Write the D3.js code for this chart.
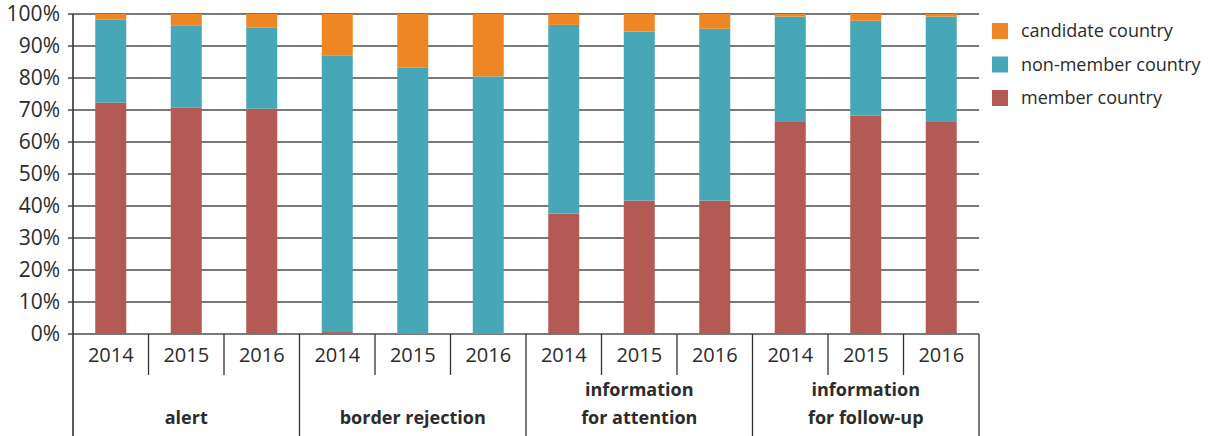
<!DOCTYPE html>
<html>
<head>
<meta charset="utf-8">
<script src="https://cdn.jsdelivr.net/npm/d3@7"></script>
<style>
  body { margin: 0; background: #fff; }
  svg text { font-family: "Open Sans", "Noto Sans", sans-serif; fill: #2b2b2b; }
</style>
</head>
<body>
<div id="chart"></div>
<script>
var groups = ["alert", "border rejection", "information\nfor attention", "information\nfor follow-up"];
var years = ["2014", "2015", "2016"];
var seriesNames = ["member country", "non-member country", "candidate country"];
var seriesColors = ["#b35a55", "#48a7b7", "#ee8623"];

// percentages, one value per group/year (12 bars)
var member    = [72.3, 70.7, 70.4,  0.6,  0.0,  0.0, 37.6, 41.7, 41.7, 66.5, 68.3, 66.5];
var nonMember = [26.0, 25.6, 25.3, 86.5, 83.2, 80.5, 59.0, 52.8, 53.7, 32.7, 29.6, 32.7];
var candidate = [ 1.7,  3.7,  4.3, 12.9, 16.8, 19.5,  3.4,  5.5,  4.6,  0.8,  2.1,  0.8];
var yTicks = [0, 10, 20, 30, 40, 50, 60, 70, 80, 90, 100];

var margin = { top: 14, left: 73, right: 235, bottom: 102 },
    width = 1214 - margin.left - margin.right,
    height = 436 - margin.top - margin.bottom;

var svg = d3.select("#chart").append("svg")
    .attr("width", 1214).attr("height", 436);
var g = svg.append("g")
    .attr("transform", "translate(" + margin.left + "," + margin.top + ")");

var keys = [];
groups.forEach(function (gr, gi) {
  years.forEach(function (yr) { keys.push(gi + "|" + yr); });
});
var rows = keys.map(function (k, i) {
  return { key: k, member: member[i], nonMember: nonMember[i], candidate: candidate[i] };
});

var x = d3.scaleBand().domain(keys).range([0, width]).paddingInner(0).paddingOuter(0);
var y = d3.scaleLinear().domain([0, 100]).range([height, 0]);

// gridlines
g.selectAll(".grid").data(yTicks).enter().append("line")
    .attr("x1", -5).attr("x2", width)
    .attr("y1", d => y(d)).attr("y2", d => y(d))
    .attr("stroke", "#4d4d4d").attr("stroke-width", 1.7);

g.selectAll(".ylab").data(yTicks).enter().append("text")
    .attr("x", -13).attr("y", d => y(d))
    .attr("dy", "0.35em").attr("text-anchor", "end")
    .style("font-size", "21px")
    .text(d => d + "%");

var stack = d3.stack().keys(["member", "nonMember", "candidate"]);
var layers = stack(rows);
var barW = 31;

g.selectAll(".layer").data(layers).enter().append("g")
    .attr("fill", (d, i) => seriesColors[i])
  .selectAll("rect").data(d => d).enter().append("rect")
    .attr("x", d => x(d.data.key) + x.bandwidth() / 2 - barW / 2)
    .attr("width", barW)
    .attr("y", d => y(d[1]))
    .attr("height", d => Math.max(0, y(d[0]) - y(d[1])));

// axis lines
g.append("line").attr("x1", 0).attr("x2", 0).attr("y1", 0).attr("y2", height + margin.bottom)
    .attr("stroke", "#333").attr("stroke-width", 1.6);

// year separators and labels
keys.forEach(function (k, i) {
  if (i > 0) {
    var isGroup = i % 3 === 0;
    g.append("line")
        .attr("x1", x(k)).attr("x2", x(k))
        .attr("y1", height).attr("y2", isGroup ? height + margin.bottom : height + 41)
        .attr("stroke", "#333").attr("stroke-width", 1.3);
  }
});
g.append("line").attr("x1", width).attr("x2", width)
    .attr("y1", height).attr("y2", height + margin.bottom)
    .attr("stroke", "#333").attr("stroke-width", 1.3);

g.selectAll(".year").data(keys).enter().append("text")
    .attr("x", d => x(d) + x.bandwidth() / 2)
    .attr("y", height + 21).attr("dy", "0.35em")
    .attr("text-anchor", "middle")
    .style("font-size", "20px")
    .text(d => d.split("|")[1]);

groups.forEach(function (gr, gi) {
  var cx = x(gi + "|2015") + x.bandwidth() / 2;
  var lines = gr.split("\n");
  var t = g.append("text").attr("text-anchor", "middle")
      .style("font-size", "18px").style("font-weight", "bold");
  lines.forEach(function (ln, li) {
    t.append("tspan").attr("x", cx)
        .attr("y", height + 84 - (lines.length - 1 - li) * 28)
        .attr("dy", "0.35em")
        .text(ln);
  });
});

// legend
var legend = svg.append("g").attr("transform", "translate(992,31)");
var legendOrder = [2, 1, 0];
legendOrder.forEach(function (si, i) {
  var row = legend.append("g").attr("transform", "translate(0," + (i * 33.5) + ")");
  row.append("rect").attr("x", 0).attr("y", -8).attr("width", 16).attr("height", 16)
      .attr("fill", seriesColors[si]);
  row.append("text").attr("x", 29).attr("y", 0).attr("dy", "0.35em")
      .style("font-size", "18px").text(seriesNames[si]);
});
</script>
</body>
</html>
